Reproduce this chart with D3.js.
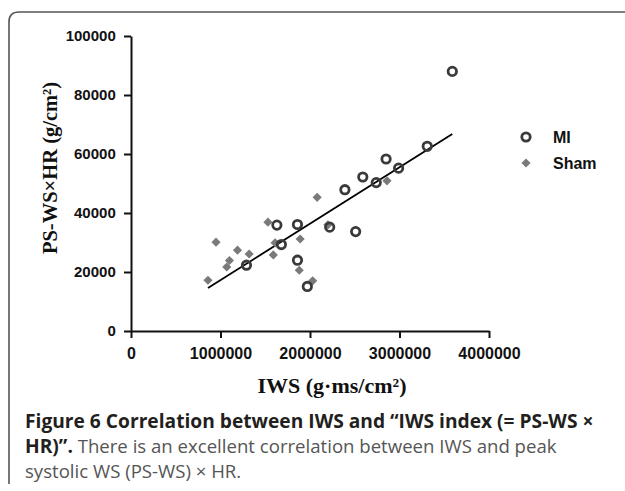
<!DOCTYPE html>
<html>
<head>
<meta charset="utf-8">
<script src="https://cdn.jsdelivr.net/npm/d3@7"></script>
<style>
  html, body { margin: 0; padding: 0; background: #fff; }
  svg { display: block; }
</style>
</head>
<body>
<svg id="chart" width="625" height="491"></svg>
<script>
"use strict";

// MI group : IWS (g·ms/cm²) and PS-WS x HR (g/cm²)
const miIws = [3590000, 3310000, 2990000, 2850000, 2740000, 2590000, 2390000, 2510000,
               2220000, 1860000, 1630000, 1680000, 1290000, 1860000, 1970000];
const miIndex = [88000, 62600, 55200, 58300, 50300, 52200, 47900, 33700,
                 35200, 36100, 35900, 29300, 22300, 24000, 15100];

// Sham group
const shamIws = [860000, 950000, 1070000, 1100000, 1190000, 1320000, 1530000, 1590000,
                 1610000, 1890000, 1880000, 2030000, 2080000, 2200000, 2860000];
const shamIndex = [17200, 30100, 21700, 23900, 27400, 26100, 36900, 25800,
                   29900, 31200, 20600, 17000, 45300, 36000, 50900];

// linear fit
const fitSlope = 0.01912;
const fitIntercept = -1860;

const xTicks = [0, 1000000, 2000000, 3000000, 4000000];
const yTicks = [0, 20000, 40000, 60000, 80000, 100000];
const legendNames = ["MI", "Sham"];

const svg = d3.select("#chart");

// frame round the figure
svg.append("path")
  .attr("d", "M9,484 V22 Q9,12 19,12 H640")
  .attr("fill", "none")
  .attr("stroke", "#555")
  .attr("stroke-width", 1.6);

const x = d3.scaleLinear().domain([0, 4000000]).range([131, 489]);
const y = d3.scaleLinear().domain([0, 100000]).range([331, 36]);

// axes
let xAxis = svg.append("g")
  .attr("transform", "translate(0," + y(0) + ")")
  .call(d3.axisBottom(x).tickValues(xTicks).tickFormat(d3.format("d")).tickSize(7).tickSizeOuter(0));
xAxis.selectAll("text")
  .attr("dy", "1.1em")
  .style("font-family", "Liberation Sans, Arial, sans-serif")
  .style("font-weight", "bold")
  .style("font-size", "16px")
  .attr("fill", "#111");

let yAxis = svg.append("g")
  .attr("transform", "translate(" + x(0) + ",0)")
  .call(d3.axisLeft(y).tickValues(yTicks).tickFormat(d3.format("d")).tickSize(7).tickSizeOuter(0));
yAxis.selectAll("text")
  .attr("dx", "-0.35em")
  .style("font-family", "Liberation Sans, Arial, sans-serif")
  .style("font-weight", "bold")
  .style("font-size", "15px")
  .attr("fill", "#111");

svg.selectAll(".domain, .tick line")
  .attr("stroke", "#111")
  .attr("stroke-width", 2);

// axis titles
svg.append("text")
  .attr("x", 332)
  .attr("y", 393)
  .attr("text-anchor", "middle")
  .style("font-family", "Liberation Serif, Times New Roman, serif")
  .style("font-weight", "bold")
  .style("font-size", "22px")
  .attr("fill", "#111")
  .text("IWS (g·ms/cm²)");

svg.append("text")
  .attr("transform", "translate(57,168) rotate(-90)")
  .attr("text-anchor", "middle")
  .style("font-family", "Liberation Serif, Times New Roman, serif")
  .style("font-weight", "bold")
  .style("font-size", "20.5px")
  .attr("fill", "#111")
  .text("PS-WS×HR (g/cm²)");

// regression line
const xr = d3.extent(miIws.concat(shamIws));
svg.append("line")
  .attr("x1", x(xr[0]))
  .attr("y1", y(fitSlope * xr[0] + fitIntercept))
  .attr("x2", x(xr[1]))
  .attr("y2", y(fitSlope * xr[1] + fitIntercept))
  .attr("stroke", "#000")
  .attr("stroke-width", 1.8);

const diamond = d3.symbol().type(d3.symbolSquare).size(42);

// Sham points
svg.append("g").selectAll("path")
  .data(d3.range(shamIws.length))
  .enter()
  .append("path")
  .attr("d", diamond)
  .attr("transform", i => "translate(" + x(shamIws[i]) + "," + y(shamIndex[i]) + ") rotate(45)")
  .attr("fill", "#7a7a7a");

// MI points
svg.append("g").selectAll("circle")
  .data(d3.range(miIws.length))
  .enter()
  .append("circle")
  .attr("cx", i => x(miIws[i]))
  .attr("cy", i => y(miIndex[i]))
  .attr("r", 4.2)
  .attr("fill", "none")
  .attr("stroke", "#3a3a3a")
  .attr("stroke-width", 2.8);

// legend
let legend = svg.append("g");
legend.append("circle")
  .attr("cx", 526).attr("cy", 137).attr("r", 4.2)
  .attr("fill", "none").attr("stroke", "#3a3a3a").attr("stroke-width", 2.8);
legend.append("path")
  .attr("d", diamond)
  .attr("transform", "translate(526,163) rotate(45)")
  .attr("fill", "#7a7a7a");
legend.selectAll("text")
  .data(legendNames)
  .enter()
  .append("text")
  .attr("x", 553)
  .attr("y", (d, i) => 143 + i * 26)
  .style("font-family", "Liberation Sans, Arial, sans-serif")
  .style("font-weight", "bold")
  .style("font-size", "16px")
  .attr("fill", "#111")
  .text(d => d);

// caption
let cap = svg.append("g")
  .style("font-family", "Open Sans, sans-serif")
  .style("font-size", "18.6px");
cap.append("text").attr("x", 25).attr("y", 428)
  .attr("font-weight", "bold").attr("fill", "#231f20")
  .style("font-size", "19.2px")
  .text("Figure 6 Correlation between IWS and “IWS index (= PS-WS ×");
let l2 = cap.append("text").attr("x", 25).attr("y", 453);
l2.append("tspan").attr("font-weight", "bold").attr("fill", "#231f20")
  .style("font-size", "19.2px").text("HR)”.");
l2.append("tspan").attr("fill", "#555").text(" There is an excellent correlation between IWS and peak");
cap.append("text").attr("x", 25).attr("y", 478).attr("fill", "#555")
  .text("systolic WS (PS-WS) × HR.");
</script>
</body>
</html>
